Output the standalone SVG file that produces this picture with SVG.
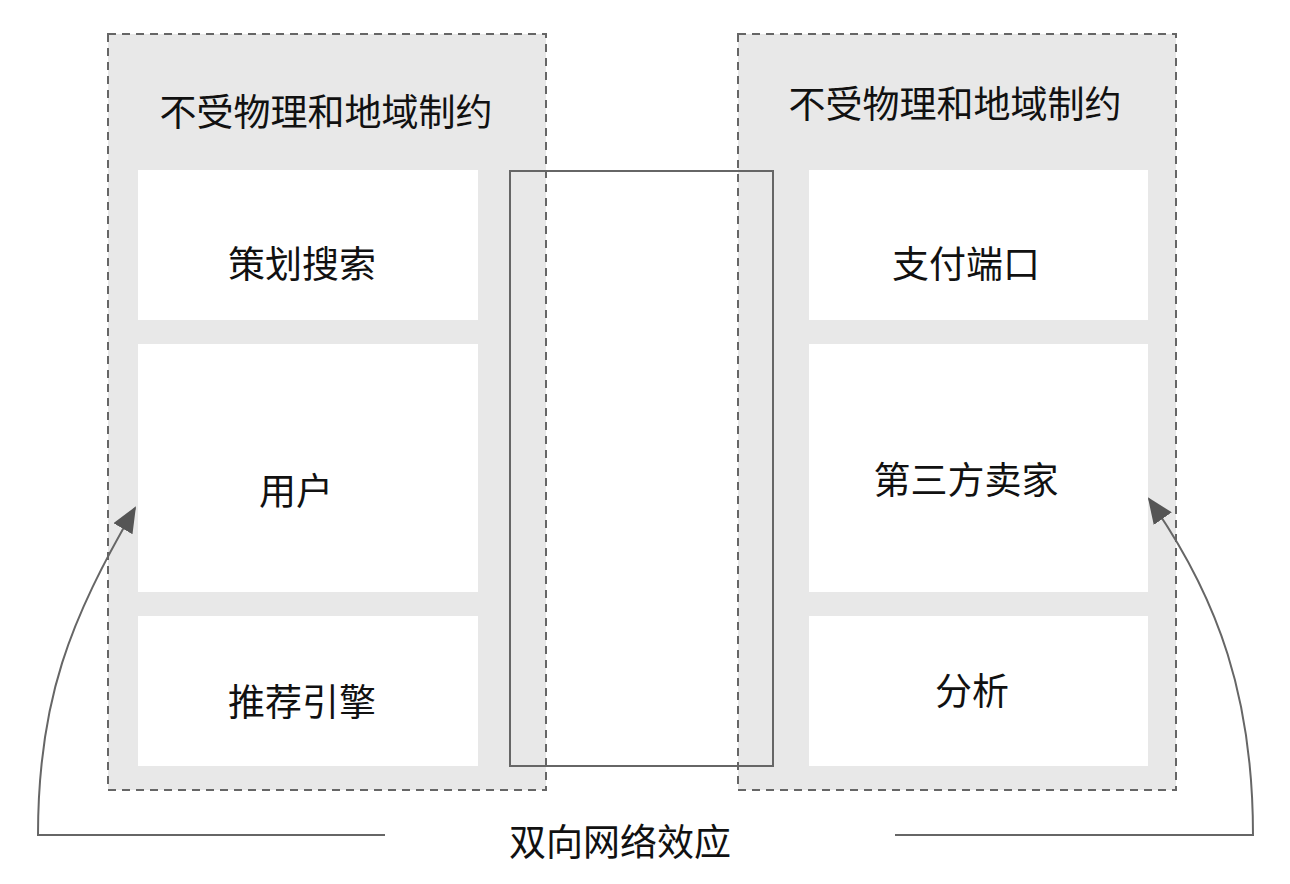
<svg xmlns="http://www.w3.org/2000/svg" width="1290" height="884" viewBox="0 0 1290 884">
<style>
.panel{fill:#e8e8e8}
.border{fill:none;stroke:#666;stroke-width:2;stroke-dasharray:8 6}
.box{fill:#fff}
.t{font-family:"Noto Sans CJK SC",sans-serif;font-size:37px;fill:#111;text-anchor:middle;dominant-baseline:central}
.ln{fill:none;stroke:#666;stroke-width:2}
</style>
<defs>
<marker id="ah" viewBox="0 0 26 22" refX="24" refY="11" markerWidth="26" markerHeight="22" markerUnits="userSpaceOnUse" orient="auto">
<path d="M0,0 L26,11 L0,22 Z" fill="#555"/>
</marker>
</defs>
<rect width="1290" height="884" fill="#fff"/>
<g id="left-panel">
<rect class="panel" x="108" y="34" width="438" height="756"/>
<text class="t" x="326" y="110">不受物理和地域制约</text>
</g>
<g id="right-panel">
<rect class="panel" x="738" y="34" width="438" height="756"/>
<text class="t" x="955" y="102">不受物理和地域制约</text>
</g>
<g id="node-search"><rect class="box" x="138" y="170" width="340" height="150"/><text class="t" x="302" y="262">策划搜索</text></g>
<g id="node-user"><rect class="box" x="138" y="344" width="340" height="248"/><text class="t" x="296" y="489">用户</text></g>
<g id="node-recommend"><rect class="box" x="138" y="616" width="340" height="150"/><text class="t" x="302" y="700">推荐引擎</text></g>
<g id="node-pay"><rect class="box" x="809" y="170" width="339" height="150"/><text class="t" x="966" y="262">支付端口</text></g>
<g id="node-seller"><rect class="box" x="809" y="344" width="339" height="248"/><text class="t" x="966" y="478">第三方卖家</text></g>
<g id="node-analysis"><rect class="box" x="809" y="616" width="339" height="150"/><text class="t" x="972" y="689">分析</text></g>
<g id="middle">
<rect x="510" y="171" width="263" height="595" fill="none" stroke="#666" stroke-width="2"/>
</g>
<g id="panel-borders">
<rect class="border" x="108" y="34" width="438" height="756"/>
<rect class="border" x="738" y="34" width="438" height="756"/>
</g>
<g id="connectors">
<path class="ln" d="M385,835 L38,835 C38,700 70,620 135,508" marker-end="url(#ah)"/>
<path class="ln" d="M895,835 L1253,835 C1253,700 1220,600 1149,499" marker-end="url(#ah)"/>
</g>
<g id="label"><text class="t" x="620" y="840">双向网络效应</text></g>
</svg>
